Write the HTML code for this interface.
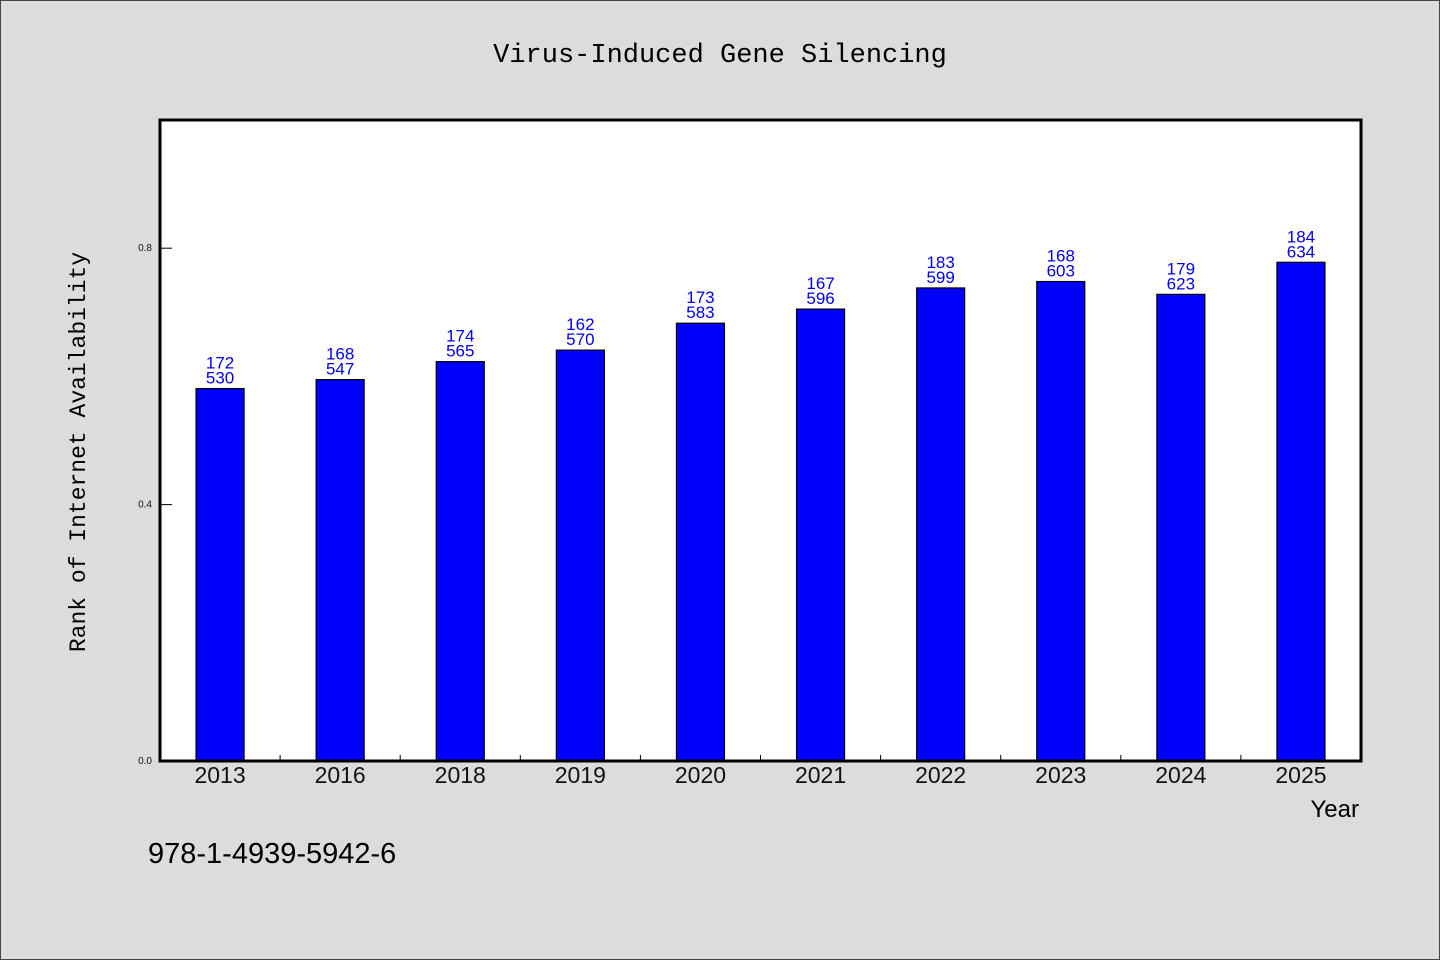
<!DOCTYPE html>
<html><head><meta charset="utf-8"><style>
body{margin:0;background:#dcdcdc;}
svg{display:block;font-family:"Liberation Sans","WenQuanYi Zen Hei",sans-serif;}
</style></head><body>
<svg id="chart" width="1440" height="960" xmlns="http://www.w3.org/2000/svg">
<rect x="0.5" y="0.5" width="1439" height="959" fill="#dcdcdc" stroke="#444"/>
<text x="720" y="62" text-anchor="middle" font-size="27" font-family="'WenQuanYi Zen Hei','Liberation Mono',monospace">Virus-Induced Gene Silencing</text>
<rect x="160" y="120" width="1201" height="641" fill="#fff"/>
<g id="bars"></g>
<g id="ticks"></g>
<rect x="160" y="120" width="1201" height="641" fill="none" stroke="#000" stroke-width="3"/>
<text x="85" y="452" text-anchor="middle" font-size="23" font-family="'WenQuanYi Zen Hei','Liberation Mono',monospace" transform="rotate(-90 85 452)">Rank of Internet Availability</text>
<text x="1359" y="817" text-anchor="end" font-size="24" font-family="'WenQuanYi Zen Hei','Liberation Sans',sans-serif">Year</text>
<text x="148" y="863" font-size="29" font-family="'WenQuanYi Zen Hei','Liberation Sans',sans-serif">978-1-4939-5942-6</text>
</svg>
<script>
const categories=["2013","2016","2018","2019","2020","2021","2022","2023","2024","2025"];
const values=[0.581,0.595,0.623,0.641,0.683,0.705,0.738,0.748,0.728,0.778];
const labelTop=["172","168","174","162","173","167","183","168","179","184"];
const labelBottom=["530","547","565","570","583","596","599","603","623","634"];
const yTicks=[0,0.4,0.8];
const yTickLabels=["0.0","0.4","0.8"];
const NS="http://www.w3.org/2000/svg";
const L=160,R=1361,T=120,B=761,yMax=1.0;
const bw=(R-L)/categories.length;
const x=i=>L+bw*(i+0.5);
const y=v=>B-(v/yMax)*(B-T);
function mk(tag,attrs,parent){const e=document.createElementNS(NS,tag);for(const k in attrs)e.setAttribute(k,attrs[k]);parent.appendChild(e);return e;}
const gb=document.getElementById('bars'),gt=document.getElementById('ticks');
categories.forEach((c,i)=>{
  const r=mk('rect',{x:x(i)-24,y:y(values[i]),width:48,height:B-y(values[i]),fill:'#0000ff',stroke:'#000','stroke-width':1.2},gb);
  
  
  const t1=mk('text',{x:x(i),y:y(values[i])-20,'text-anchor':'middle','font-size':17,fill:'#0000ee'},gb);
  t1.textContent=labelTop[i];
  
  
  const t2=mk('text',{x:x(i),y:y(values[i])-5,'text-anchor':'middle','font-size':17,fill:'#0000ee'},gb);
  t2.textContent=labelBottom[i];
  
  
  const xl=mk('text',{x:x(i),y:783,'text-anchor':'middle','font-size':23,fill:'#111'},gt);
  xl.textContent=c;
  
  
  if(i>0){
    const tk=mk('line',{x1:L+bw*i,x2:L+bw*i,y1:B,y2:B-6,stroke:'#000','stroke-width':1},gt);
    
    
  }
});
yTicks.forEach((v,i)=>{
  const tk=mk('line',{x1:L,x2:L+12,y1:y(v),y2:y(v),stroke:'#000','stroke-width':1},gt);
  
  
  const tl=mk('text',{x:152,y:y(v)+3,'text-anchor':'end','font-size':10,fill:'#111'},gt);
  tl.textContent=yTickLabels[i];
  
  
});
</script>
</body></html>
